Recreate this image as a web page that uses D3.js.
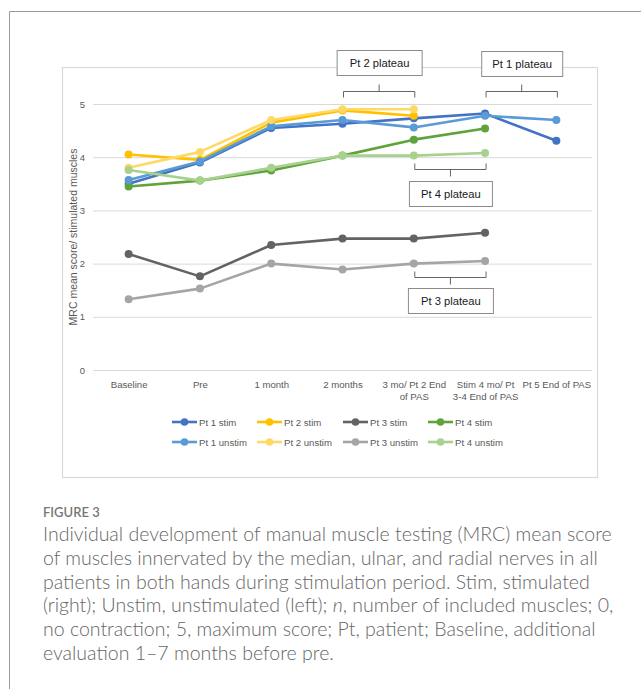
<!DOCTYPE html>
<html>
<head>
<meta charset="utf-8">
<script src="https://cdn.jsdelivr.net/npm/d3@7"></script>
<style>
  html, body { margin: 0; padding: 0; background: #fff; }
  svg { display: block; }
</style>
</head>
<body>
<svg id="fig" width="641" height="689"></svg>
<script>
// Time points (x categories) and their wrapped tick labels
const categories = ["Baseline", "Pre", "1 month", "2 months",
  "3 mo/ Pt 2 End of PAS", "Stim 4 mo/ Pt 3-4 End of PAS", "Pt 5 End of PAS"];
const tickLabels = ["Baseline", "Pre", "1 month", "2 months",
  "3 mo/ Pt 2 End\nof PAS", "Stim 4 mo/ Pt\n3-4 End of PAS", "Pt 5 End of PAS"];
const yTicks = [0, 1, 2, 3, 4, 5];

// MRC mean scores per patient, stimulated (right) and unstimulated (left) hand
const pt1Stim   = [3.50, 3.90, 4.55, 4.63, 4.73, 4.82, 4.31];
const pt2Stim   = [4.05, 3.95, 4.65, 4.88, 4.78];
const pt3Stim   = [2.18, 1.76, 2.35, 2.47, 2.47, 2.58];
const pt4Stim   = [3.45, 3.56, 3.75, 4.03, 4.33, 4.54];
const pt1Unstim = [3.57, 3.92, 4.58, 4.70, 4.56, 4.78, 4.70];
const pt2Unstim = [3.80, 4.10, 4.70, 4.90, 4.90];
const pt3Unstim = [1.33, 1.53, 2.00, 1.89, 2.00, 2.05];
const pt4Unstim = [3.76, 3.56, 3.80, 4.03, 4.03, 4.08];

const seriesNames = ["Pt 1 stim", "Pt 2 stim", "Pt 3 stim", "Pt 4 stim",
  "Pt 1 unstim", "Pt 2 unstim", "Pt 3 unstim", "Pt 4 unstim"];
const seriesValues = [pt1Stim, pt2Stim, pt3Stim, pt4Stim,
  pt1Unstim, pt2Unstim, pt3Unstim, pt4Unstim];
const seriesColors = ["#4472C4", "#FFC000", "#636363", "#5FA33A",
  "#5B9BD5", "#FFD966", "#A5A5A5", "#A9D18E"];

// Plateau annotations: label, first and last category index, side of bracket
const plateaus = [
  { label: "Pt 2 plateau", from: 3, to: 4, above: true,  boxY: 50,  boxW: 85, barY: 91 },
  { label: "Pt 1 plateau", from: 5, to: 6, above: true,  boxY: 51,  boxW: 81, barY: 91 },
  { label: "Pt 4 plateau", from: 4, to: 5, above: false, boxY: 181, boxW: 83, barY: 169 },
  { label: "Pt 3 plateau", from: 4, to: 5, above: false, boxY: 288, boxW: 85, barY: 277 }
];

const captionTitle = "FIGURE 3";
const captionLines = [
  "Individual development of manual muscle testing (MRC) mean score",
  "of muscles innervated by the median, ulnar, and radial nerves in all",
  "patients in both hands during stimulation period. Stim, stimulated",
  "(right); Unstim, unstimulated (left); <i>n</i>, number of included muscles; 0,",
  "no contraction; 5, maximum score; Pt, patient; Baseline, additional",
  "evaluation 1\u20137 months before pre."
];

const svg = d3.select("#fig");
const chartFont = "'Liberation Sans', Arial, sans-serif";

// Page frame
svg.append("path")
  .attr("d", "M9.5,689 V11.5 H641")
  .attr("fill", "none").attr("stroke", "#9a9a9a").attr("stroke-width", 1);

// Chart area border
svg.append("rect")
  .attr("x", 62.5).attr("y", 67.5).attr("width", 535).attr("height", 410)
  .attr("fill", "#fff").attr("stroke", "#d9d9d9").attr("stroke-width", 1.2);

const plotLeft = 93, plotRight = 592, plotTop = 104, plotBottom = 370;

const x = d3.scalePoint().domain(categories).range([plotLeft, plotRight]).padding(0.5);
const y = d3.scaleLinear().domain([0, 5]).range([plotBottom, plotTop]);

// Horizontal gridlines + y tick labels
const yAxis = d3.axisLeft(y).tickValues(yTicks).tickFormat(d3.format("d"))
  .tickSize(-(plotRight - plotLeft)).tickPadding(8);
const gy = svg.append("g").attr("transform", `translate(${plotLeft},0)`).call(yAxis);
gy.select(".domain").remove();
gy.selectAll(".tick line").attr("stroke", "#d9d9d9").attr("stroke-width", 1);
gy.selectAll(".tick text").attr("fill", "#595959")
  .style("font-family", chartFont).style("font-size", "9.5px");

// Category labels
const xAxis = d3.axisBottom(x).tickSize(0).tickPadding(0).tickFormat(() => "");
const gx = svg.append("g").attr("transform", `translate(0,${plotBottom})`).call(xAxis);
gx.select(".domain").remove();
gx.selectAll(".tick").each(function(d, i) {
  const lines = tickLabels[i].split("\n");
  const t = d3.select(this).select("text")
    .attr("y", 17.5).attr("dy", null)
    .attr("fill", "#595959")
    .style("font-family", chartFont).style("font-size", "9.6px");
  lines.forEach((ln, k) => {
    t.append("tspan").attr("x", 0).attr("dy", k === 0 ? 0 : 12).text(ln);
  });
});

// Y axis title
svg.append("text")
  .attr("transform", `translate(77,${(plotTop + plotBottom) / 2}) rotate(-90)`)
  .attr("text-anchor", "middle")
  .attr("fill", "#595959")
  .style("font-family", chartFont).style("font-size", "10.5px")
  .text("MRC mean score/ stimulated muscles");

// Series lines and markers
const line = d3.line().x((d, i) => x(categories[i])).y(d => y(d));
seriesValues.forEach((vals, s) => {
  const g = svg.append("g");
  g.append("path").datum(vals)
    .attr("d", line)
    .attr("fill", "none")
    .attr("stroke", seriesColors[s])
    .attr("stroke-width", 2.6)
    .attr("stroke-linejoin", "round")
    .attr("stroke-linecap", "round");
  g.selectAll("circle").data(vals).join("circle")
    .attr("cx", (d, i) => x(categories[i]))
    .attr("cy", d => y(d))
    .attr("r", 4)
    .attr("fill", seriesColors[s]);
});

// Plateau brackets and labelled boxes
plateaus.forEach(p => {
  const x0 = x(categories[p.from]) + 1, x1 = x(categories[p.to]) + 1;
  const xm = (x0 + x1) / 2;
  const dir = p.above ? 1 : -1;       // ends hook toward the lines
  const b = p.barY + 0.5;
  svg.append("path")
    .attr("d", `M${x0},${b + dir * 6} V${b} H${x1} V${b + dir * 6} M${xm},${b} V${b - dir * 7}`)
    .attr("fill", "none").attr("stroke", "#555").attr("stroke-width", 0.9);
  const g = svg.append("g");
  g.append("rect")
    .attr("x", xm - p.boxW / 2 + 0.5).attr("y", p.boxY + 0.5)
    .attr("width", p.boxW).attr("height", 25)
    .attr("fill", "#fff").attr("stroke", "#8c8c8c").attr("stroke-width", 1);
  g.append("text")
    .attr("x", xm + 0.5).attr("y", p.boxY + 16.8)
    .attr("text-anchor", "middle")
    .attr("fill", "#1a1a1a")
    .style("font-family", chartFont).style("font-size", "11.2px")
    .text(p.label);
});

// Legend: two rows of four
const legendX = [172, 257, 343, 428];
const legendY = [422, 442];
seriesNames.forEach((name, s) => {
  const lx = legendX[s % 4], ly = legendY[Math.floor(s / 4)];
  const g = svg.append("g").attr("transform", `translate(${lx},${ly})`);
  g.append("line").attr("x1", 0).attr("x2", 25).attr("y1", 0).attr("y2", 0)
    .attr("stroke", seriesColors[s]).attr("stroke-width", 2.6);
  g.append("circle").attr("cx", 12.5).attr("cy", 0).attr("r", 3.8).attr("fill", seriesColors[s]);
  g.append("text").attr("x", 27).attr("y", 3.5)
    .attr("fill", "#595959")
    .style("font-family", chartFont).style("font-size", "9.6px")
    .text(name);
});

// Figure caption
svg.append("text")
  .attr("x", 43).attr("y", 517)
  .attr("fill", "#777")
  .style("font-family", "Lato, 'Open Sans', sans-serif")
  .style("font-size", "13px").style("font-weight", 600)
  .text(captionTitle);

const capFont = "Lato, 'Open Sans', sans-serif";
const capG = svg.append("g");
captionLines.forEach((ln, i) => {
  const t = capG.append("text")
    .attr("x", 43).attr("y", 541 + i * 23.8)
    .attr("fill", "#666")
    .style("font-family", capFont).style("font-size", "17px")
    .style("font-weight", 300);
  // allow italic markup for the "n"
  const parts = ln.split(/(<i>.*?<\/i>)/);
  parts.forEach(pt => {
    if (!pt) return;
    const m = pt.match(/^<i>(.*)<\/i>$/);
    const ts = t.append("tspan").text(m ? m[1] : pt);
    if (m) ts.style("font-style", "italic");
  });
});
// Fit the first caption line to the column width
const first = capG.select("text").node();
const w = first.getComputedTextLength();
const target = 569;
const fs = 17 * target / w;
capG.selectAll("text").style("font-size", fs + "px");
</script>
</body>
</html>
